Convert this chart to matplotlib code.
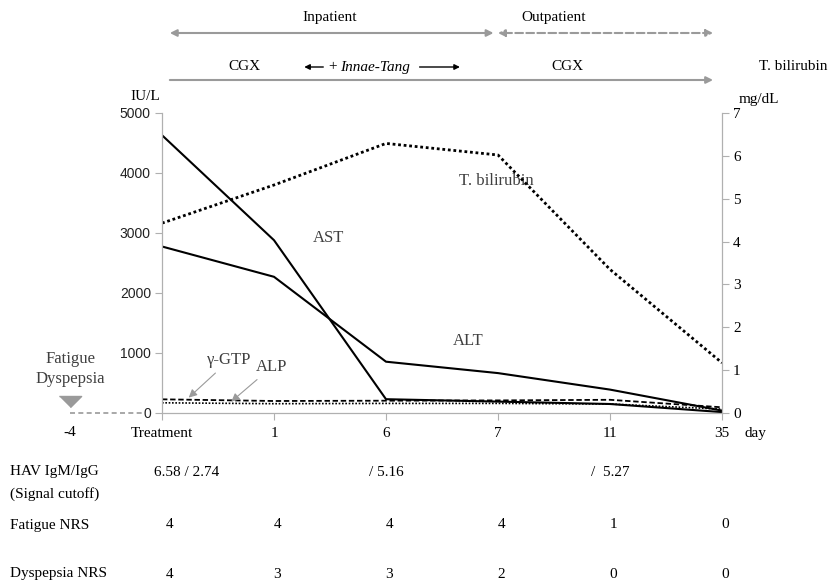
import matplotlib.pyplot as plt
import matplotlib.transforms as mtransforms
import numpy as np

# data
days = ['Treatment', '1', '6', '7', '11', '35']
ast = [4630, 2880, 230, 190, 150, 15]
alt = [2775, 2270, 855, 665, 390, 40]
ggt = [228, 200, 205, 210, 220, 95]
alp = [170, 155, 160, 160, 150, 65]
tbil = [4.43, 5.32, 6.29, 6.02, 3.35, 1.17]

hav = ['6.58 / 2.74', '', '/ 5.16', '', '/  5.27', '']
fatigue_nrs = ['4', '4', '4', '4', '1', '0']
dyspepsia_nrs = ['4', '3', '3', '2', '0', '0']

W, H = 831, 583
serif = 'Liberation Serif'
txt = '#404040'
gray = '#9a9a9a'

plt.rcParams['font.family'] = serif

fig = plt.figure(figsize=(W / 100, H / 100), dpi=100)
ax = fig.add_axes([162 / W, 1 - 413 / H, (722 - 162) / W, 300 / H])
ax2 = ax.twinx()

x = np.arange(len(days))

ax.plot(x, ast, color='black', lw=1.5)
ax.plot(x, alt, color='black', lw=1.5)
ax.plot(x, ggt, color='black', lw=1.3, ls=(0, (3, 1.5)))
ax.plot(x, alp, color='black', lw=1.2, ls=(0, (1, 1)))
ax2.plot(x, tbil, color='black', lw=2, ls=(0, (1, 1)))

ax.set_xlim(0, 5)
ax.set_ylim(0, 5000)
ax2.set_ylim(0, 7)
ax.set_yticks(range(0, 5001, 1000))
ax2.set_yticks(range(0, 8))
ax.set_xticks(x)
ax.set_xticklabels(days)

for a in (ax, ax2):
    for s in a.spines.values():
        s.set_color('#b0b0b0')
    a.spines['top'].set_visible(False)
ax.tick_params(axis='x', colors='#b0b0b0', labelcolor='black', labelsize=11,
               length=5, pad=5)
ax.tick_params(axis='y', colors='#b0b0b0', labelcolor='#222222', labelsize=10,
               length=5, pad=3)
for lbl in ax.get_yticklabels():
    lbl.set_family('Liberation Sans')
ax2.tick_params(axis='y', colors='#b0b0b0', labelcolor='black', labelsize=11,
                length=5, pad=3)

# series labels
ax.text(1.35, 2850, 'AST', color=txt, fontsize=12)
ax.text(2.6, 1130, 'ALT', color=txt, fontsize=12)
ax.text(2.65, 3800, 'T. bilirubin', color=txt, fontsize=12)
ax.annotate('γ-GTP', xy=(0.22, 225), xytext=(0.6, 810), color=txt, fontsize=12,
            ha='center', arrowprops=dict(arrowstyle='-|>', color=gray, lw=0.8))
ax.annotate('ALP', xy=(0.6, 160), xytext=(0.98, 700), color=txt, fontsize=12,
            ha='center', arrowprops=dict(arrowstyle='-|>', color=gray, lw=0.8))

# day -4 marker outside the axes
x_m4 = -0.82
ax.plot([x_m4, -0.18], [0, 0], color=gray, lw=1.2, ls=(0, (3, 2)), clip_on=False)
ax.plot([x_m4], [283], marker=[(-1, 0), (1, 0), (0, -1)], color=gray, ms=16,
        clip_on=False)
ax.text(x_m4, 730, 'Fatigue\nDyspepsia', color=txt, fontsize=12, ha='center',
        va='center', linespacing=1.3)

bt = mtransforms.blended_transform_factory(ax.transData, fig.transFigure)


def fy(py):
    return 1 - py / H


ax.text(x_m4, fy(433), '-4', transform=bt, ha='center', va='center', fontsize=11)
ax.text(5.2, fy(433), 'day', transform=bt, ha='left', va='center', fontsize=11)
fig.text(130 / W, fy(97), 'IU/L', ha='left', va='center', fontsize=11)
fig.text(759 / W, fy(100), 'mg/dL', ha='center', va='center', fontsize=11)

# top treatment arrows
ax.text(1.5, fy(17), 'Inpatient', transform=bt, ha='center', va='center', fontsize=11)
ax.text(3.5, fy(17), 'Outpatient', transform=bt, ha='center', va='center', fontsize=11)
ax.annotate('', xy=(0.07, fy(33)), xytext=(2.96, fy(33)), xycoords=bt, textcoords=bt,
            arrowprops=dict(arrowstyle='<|-|>', color=gray, lw=1.5,
                            mutation_scale=10, shrinkA=0, shrinkB=0))
ax.annotate('', xy=(3.0, fy(33)), xytext=(4.92, fy(33)), xycoords=bt, textcoords=bt,
            arrowprops=dict(arrowstyle='<|-|>', color=gray, lw=1.5, ls='--',
                            mutation_scale=10, shrinkA=0, shrinkB=0))
ax.annotate('', xy=(4.92, fy(80)), xytext=(0.07, fy(80)), xycoords=bt, textcoords=bt,
            arrowprops=dict(arrowstyle='-|>', color=gray, lw=1.5,
                            mutation_scale=10, shrinkA=0, shrinkB=0))
ax.text(0.74, fy(67), 'CGX', transform=bt, ha='center', va='center', fontsize=11)
ax.text(3.62, fy(67), 'CGX', transform=bt, ha='center', va='center', fontsize=11)
fig.text(793 / W, fy(67), 'T. bilirubin', ha='center', va='center', fontsize=11)
ax.annotate('', xy=(1.27, fy(67)), xytext=(1.44, fy(67)), xycoords=bt, textcoords=bt,
            arrowprops=dict(arrowstyle='-|>', color='black', lw=1,
                            mutation_scale=8, shrinkA=0, shrinkB=0))
ax.text(1.49, fy(67), '+ ', transform=bt, ha='left', va='center', fontsize=11)
ax.text(1.59, fy(67), 'Innae-Tang', transform=bt, ha='left', va='center',
        fontsize=11, style='italic')
ax.annotate('', xy=(2.66, fy(67)), xytext=(2.30, fy(67)), xycoords=bt, textcoords=bt,
            arrowprops=dict(arrowstyle='-|>', color='black', lw=1,
                            mutation_scale=8, shrinkA=0, shrinkB=0))

# table rows below the chart
fig.text(10 / W, fy(472), 'HAV IgM/IgG', ha='left', va='center', fontsize=11)
fig.text(10 / W, fy(494), '(Signal cutoff)', ha='left', va='center', fontsize=11)
fig.text(10 / W, fy(525), 'Fatigue NRS', ha='left', va='center', fontsize=11)
fig.text(10 / W, fy(574), 'Dyspepsia NRS', ha='left', va='center', fontsize=11)
for i in range(len(days)):
    xi = i + (0.22 if i == 0 else 0)
    xn = i + (0.07 if i == 0 else 0.03)
    ax.text(xi, fy(472), hav[i], transform=bt, ha='center', va='center', fontsize=11)
    ax.text(xn, fy(525), fatigue_nrs[i], transform=bt, ha='center', va='center', fontsize=11)
    ax.text(xn, fy(574), dyspepsia_nrs[i], transform=bt, ha='center', va='center', fontsize=11)

fig.savefig('out.png', dpi=100)
